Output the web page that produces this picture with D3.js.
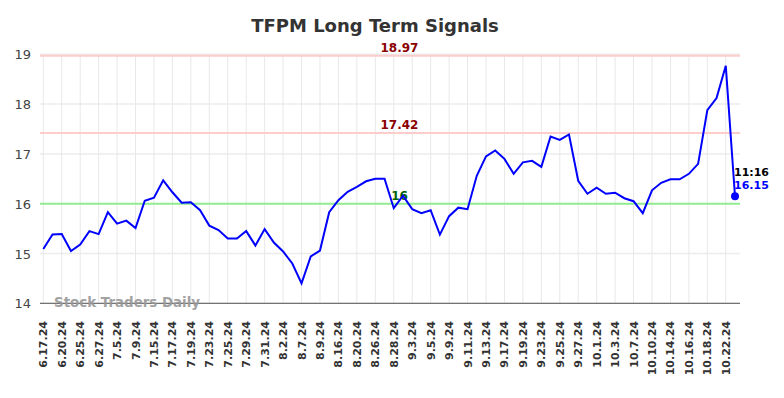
<!DOCTYPE html>
<html>
<head>
<meta charset="utf-8">
<script src="https://cdn.jsdelivr.net/npm/d3@7"></script>
<style>
	body { margin: 0; background: #fff; }
	svg { display: block; font-family: "DejaVu Sans", sans-serif; }
</style>
</head>
<body>
<div id="chart"></div>
<script>
// data
var tickLabels = ['6.17.24', '6.20.24', '6.25.24', '6.27.24', '7.5.24', '7.9.24', '7.15.24', '7.17.24',
	'7.19.24', '7.23.24', '7.25.24', '7.29.24', '7.31.24', '8.2.24', '8.7.24', '8.9.24', '8.16.24',
	'8.20.24', '8.26.24', '8.28.24', '9.3.24', '9.5.24', '9.9.24', '9.11.24', '9.13.24', '9.17.24',
	'9.19.24', '9.23.24', '9.25.24', '9.27.24', '10.1.24', '10.3.24', '10.7.24', '10.10.24',
	'10.14.24', '10.16.24', '10.18.24', '10.22.24'];

var prices = [15.09, 15.38, 15.39, 15.05, 15.18, 15.45, 15.39, 15.83, 15.60, 15.66,
	15.51, 16.06, 16.12, 16.47, 16.23, 16.02, 16.03, 15.87, 15.56, 15.47,
	15.30, 15.30, 15.45, 15.16, 15.49, 15.22, 15.04, 14.80, 14.40, 14.94,
	15.06, 15.83, 16.07, 16.24, 16.34, 16.45, 16.50, 16.50, 15.91, 16.16,
	15.89, 15.81, 15.87, 15.38, 15.75, 15.92, 15.89, 16.56, 16.95, 17.07,
	16.90, 16.60, 16.83, 16.86, 16.74, 17.35, 17.28, 17.39, 16.46, 16.20,
	16.32, 16.20, 16.22, 16.11, 16.05, 15.81, 16.27, 16.42, 16.49, 16.49,
	16.60, 16.80, 17.88, 18.12, 18.77, 16.15];

var signals = [
	{value: 18.97, label: '18.97', line: '#ffcccc', text: '#8b0000'},
	{value: 17.42, label: '17.42', line: '#ffcccc', text: '#8b0000'},
	{value: 16, label: '16', line: '#90ee90', text: '#006400'}
];

var yTicks = [14, 15, 16, 17, 18, 19];
var lastTime = '11:16';

var width = 784, height = 398,
	left = 40, right = 740;

var svg = d3.select('#chart').append('svg')
	.attr('width', width)
	.attr('height', height);

var x = d3.scaleLinear().domain([0, prices.length - 1]).range([43.3, 735]);
var y = d3.scaleLinear().domain([14, 19]).range([303.3, 54.3]);

// title
svg.append('text')
	.attr('x', 375)
	.attr('y', 32)
	.attr('text-anchor', 'middle')
	.style('font-size', '18px')
	.style('font-weight', 'bold')
	.style('fill', '#333')
	.text('TFPM Long Term Signals');

// grid
svg.append('g').selectAll('line')
	.data(yTicks)
	.enter().append('line')
	.attr('x1', left).attr('x2', right)
	.attr('y1', function(d){ return y(d); })
	.attr('y2', function(d){ return y(d); })
	.style('stroke', '#ececec')
	.style('stroke-width', 1.5);

svg.append('g').selectAll('line')
	.data(tickLabels)
	.enter().append('line')
	.attr('x1', function(d, i){ return x(i * 2); })
	.attr('x2', function(d, i){ return x(i * 2); })
	.attr('y1', y(19)).attr('y2', y(14))
	.style('stroke', '#e8e8e8')
	.style('stroke-width', 1);

// y labels
svg.append('g').selectAll('text')
	.data(yTicks)
	.enter().append('text')
	.attr('x', 31)
	.attr('y', function(d){ return y(d) + 5; })
	.attr('text-anchor', 'end')
	.style('font-size', '13px')
	.style('fill', '#444')
	.text(function(d){ return d; });

// x labels
svg.append('g').selectAll('text')
	.data(tickLabels)
	.enter().append('text')
	.attr('transform', function(d, i){
		return 'translate(' + (x(i * 2) + 4) + ',321) rotate(-90)';
	})
	.attr('text-anchor', 'end')
	.style('font-size', '11px')
	.style('font-weight', 'bold')
	.style('fill', '#333')
	.text(function(d){ return d; });

// signal lines
var sig = svg.append('g').selectAll('g')
	.data(signals)
	.enter().append('g');

sig.append('line')
	.attr('x1', left).attr('x2', right)
	.attr('y1', function(d){ return y(d.value); })
	.attr('y2', function(d){ return y(d.value); })
	.style('stroke', function(d){ return d.line; })
	.style('stroke-width', 2);

sig.append('text')
	.attr('x', 399.5)
	.attr('y', function(d){ return y(d.value) - 4; })
	.attr('text-anchor', 'middle')
	.style('font-size', '12px')
	.style('font-weight', 'bold')
	.style('fill', function(d){ return d.text; })
	.text(function(d){ return d.label; });

// axis line
svg.append('line')
	.attr('x1', left).attr('x2', right)
	.attr('y1', y(14)).attr('y2', y(14))
	.style('stroke', '#555')
	.style('stroke-width', 1);

// watermark
svg.append('text')
	.attr('x', 54)
	.attr('y', 307)
	.style('font-size', '13.4px')
	.style('font-weight', 'bold')
	.style('fill', '#999')
	.style('opacity', 0.9)
	.text('Stock Traders Daily');

// price line
svg.append('path')
	.datum(prices)
	.attr('d', d3.line()
		.x(function(d, i){ return x(i); })
		.y(function(d){ return y(d); }))
	.style('fill', 'none')
	.style('stroke', '#0000ff')
	.style('stroke-width', 2);

// last point
var last = prices.length - 1;
svg.append('circle')
	.attr('cx', x(last))
	.attr('cy', y(prices[last]))
	.attr('r', 4)
	.style('fill', '#0000ff');

svg.append('text')
	.attr('x', 734)
	.attr('y', 176)
	.style('font-size', '11px')
	.style('font-weight', 'bold')
	.style('fill', '#000')
	.text(lastTime);

svg.append('text')
	.attr('x', 734)
	.attr('y', 189)
	.style('font-size', '11px')
	.style('font-weight', 'bold')
	.style('fill', '#0000ff')
	.text(prices[last].toFixed(2));
</script>
</body>
</html>
